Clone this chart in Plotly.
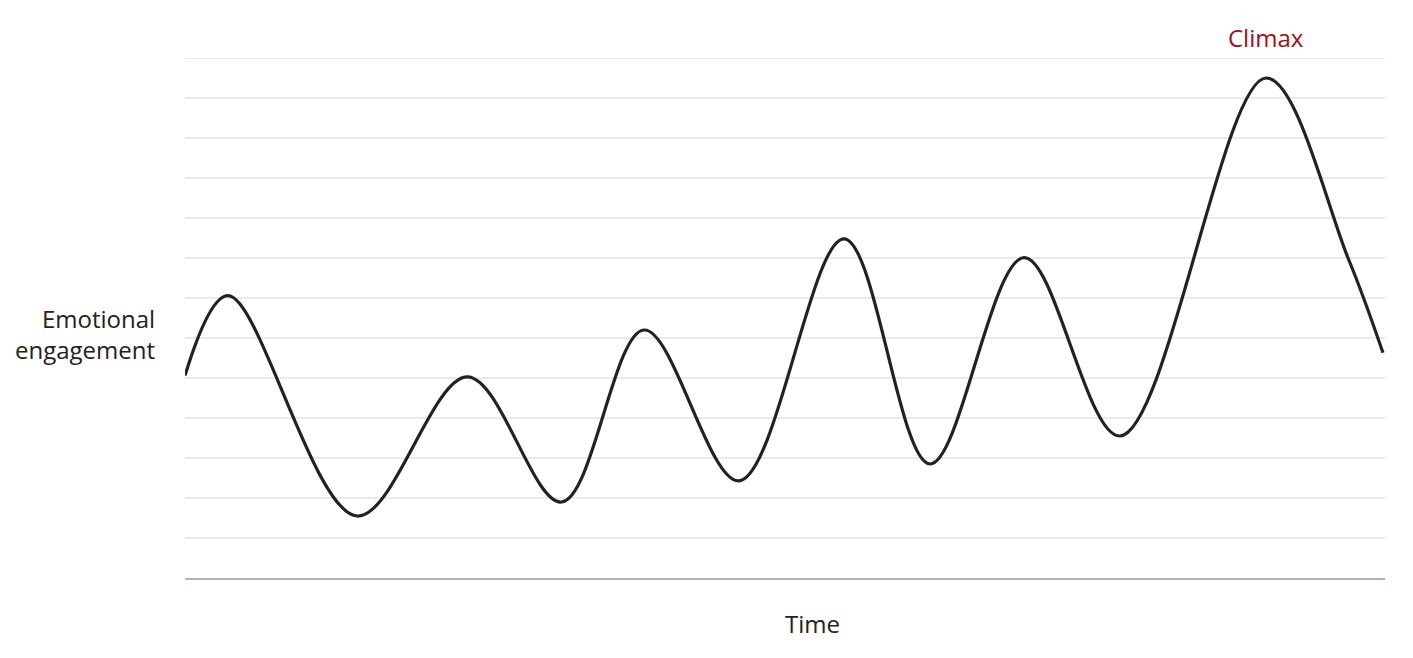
import plotly.graph_objects as go

# Story arc: time (0-100) vs emotional engagement (0-13)
time_vals = [0, 3.58, 14.33, 23.54, 31.38, 38.25, 46.17, 54.92, 62.08, 69.92, 77.92, 90.08, 96.92, 99.83]
engagement = [5.06, 7.06, 1.55, 5.03, 1.90, 6.20, 2.43, 8.48, 2.85, 8.01, 3.55, 12.50, 8.00, 5.63]
climax_index = 11
y_max = 13
y_title_lines = ["Emotional", "engagement"]
x_title = "Time"
climax_label = "Climax"

FONT = "Open Sans, Noto Sans, sans-serif"
GRID = "#e8ebea"

fig = go.Figure()
fig.add_trace(go.Scatter(
    x=time_vals, y=engagement, mode="lines",
    line=dict(color="#222222", width=3.2, shape="spline", smoothing=1.0),
    hoverinfo="skip", showlegend=False,
))

fig.update_layout(
    width=1413, height=658,
    margin=dict(l=185, r=28, t=58, b=80),
    plot_bgcolor="white", paper_bgcolor="white",
    font=dict(family=FONT, size=24, color="#222222"),
    xaxis=dict(range=[0, 100], showgrid=False, zeroline=False, showticklabels=False,
               showline=True, linecolor="#aab3bc", linewidth=2, ticks=""),
    yaxis=dict(range=[0, y_max], dtick=1, tick0=0, showgrid=True, gridcolor=GRID, gridwidth=2,
               zeroline=False, showticklabels=False, ticks="", showline=False),
)
# top gridline (at the range edge, not drawn by default)
fig.add_shape(type="line", xref="paper", x0=0, x1=1, yref="y", y0=y_max, y1=y_max,
              line=dict(color=GRID, width=2), layer="below")

fig.add_annotation(
    xref="paper", yref="paper", x=0, y=0.47, xanchor="right", yanchor="middle",
    xshift=-28, text="<br>".join(y_title_lines), showarrow=False, align="right",
    font=dict(family=FONT, size=24, color="#222222"),
)
fig.add_annotation(
    xref="paper", yref="paper", x=0.523, y=0, xanchor="center", yanchor="middle",
    yshift=-45, text=x_title, showarrow=False,
    font=dict(family=FONT, size=24, color="#222222"),
)
fig.add_annotation(
    x=time_vals[climax_index], y=y_max, yref="y", xanchor="center", yanchor="middle",
    yshift=21, text=climax_label, showarrow=False,
    font=dict(family=FONT, size=24, color="#a50f15"),
)

fig.write_html("out.html", config={"displayModeBar": False},
               post_script="document.body.style.margin='0';")
